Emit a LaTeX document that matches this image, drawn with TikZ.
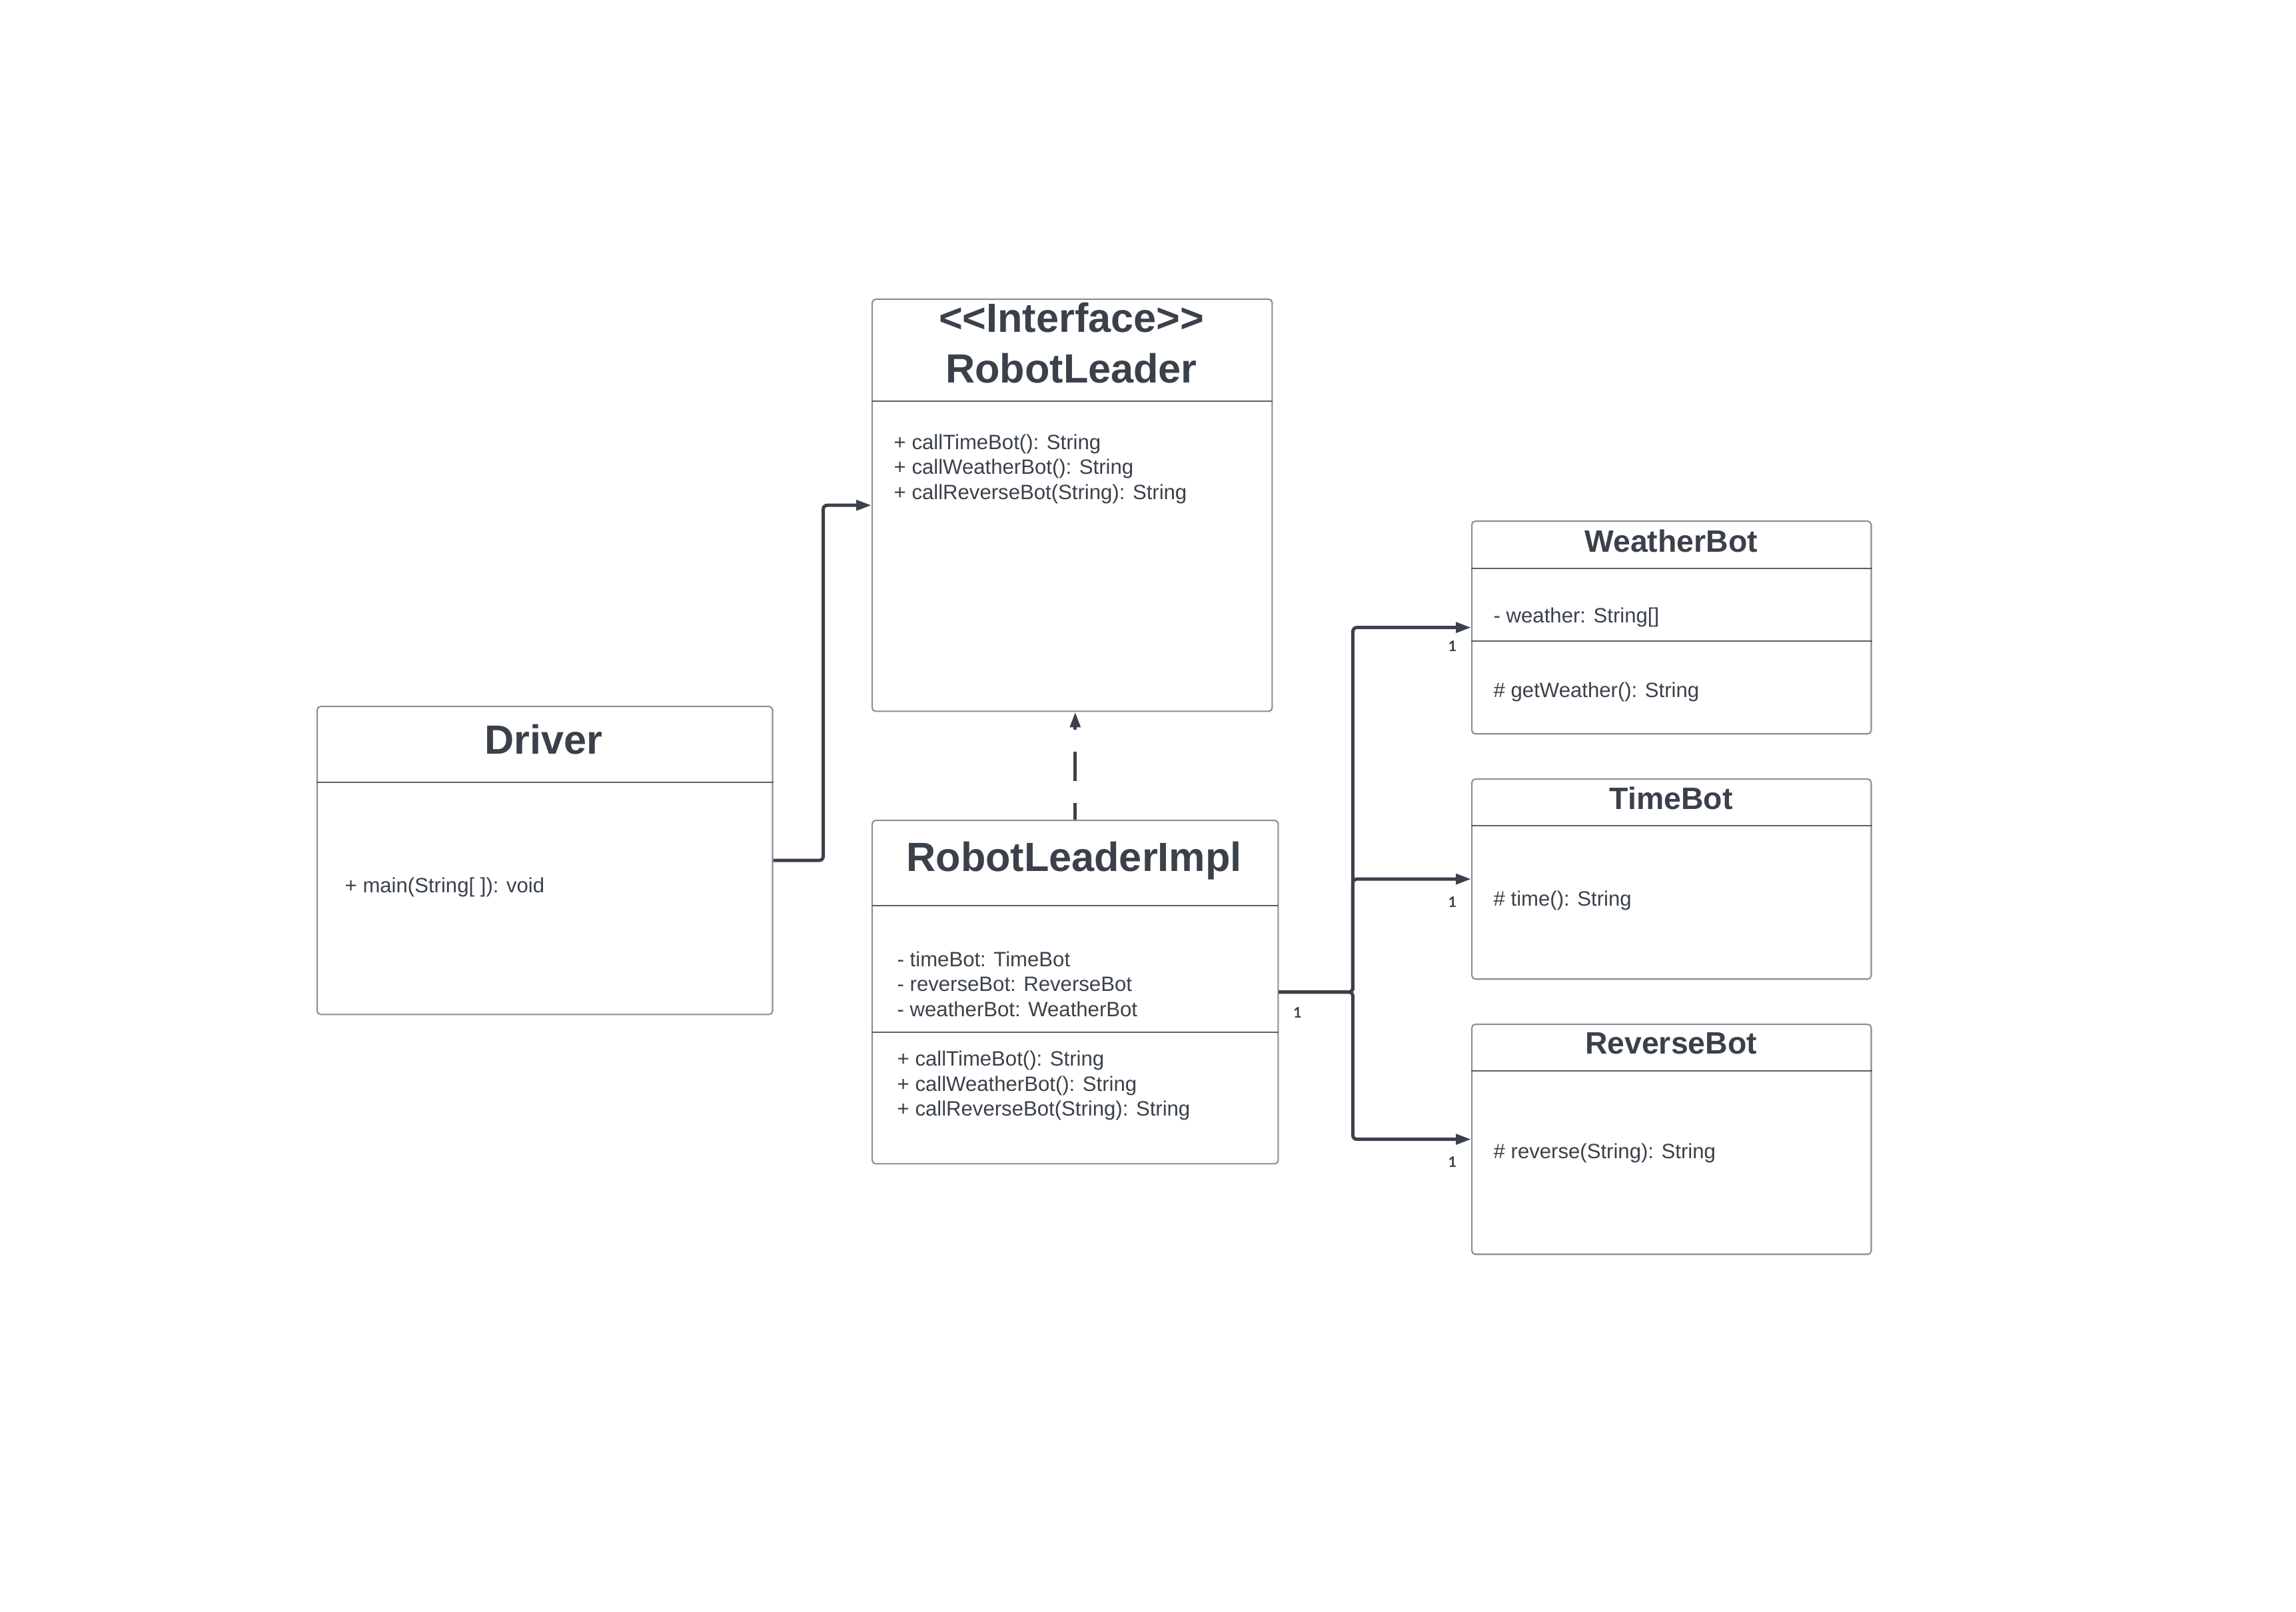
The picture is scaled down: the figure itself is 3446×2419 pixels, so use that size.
\documentclass[tikz,border=0pt]{standalone}
\usepackage{fontspec}
\setmainfont{Liberation Sans}[Ligatures=TeXOff]
\newfontfamily\multfont{Lato}
\usetikzlibrary{arrows.meta,calc}
\definecolor{ink}{HTML}{3A414A}
\definecolor{boxgray}{HTML}{8A8E94}
\definecolor{divgray}{HTML}{5A5E66}
\tikzset{
  umlbox/.style={draw=boxgray, line width=0.6pt, rounded corners=1.5pt, anchor=north west, inner sep=0pt, fill=white},
  divline/.style={draw=divgray, line width=0.55pt},
  bigtitle/.style={font=\fontsize{17.4}{20.9}\selectfont\bfseries, text=ink, anchor=base, inner sep=0pt},
  smalltitle/.style={font=\fontsize{13.2}{15.8}\selectfont\bfseries, text=ink, anchor=base, inner sep=0pt},
  member/.style={font=\fontsize{8.85}{10.6}\selectfont, text=ink, anchor=base west, inner sep=0pt},
  mult/.style={font=\multfont\fontsize{6.2}{7}\selectfont\bfseries, text=ink, inner sep=0pt},
  conn/.style={draw=ink, line width=1.42pt, rounded corners=1.7pt, -{Triangle[length=6.5pt,width=4.3pt]}},
  realize/.style={draw=ink, line width=1.42pt, dash pattern=on 12.5pt off 9.4pt, dash phase=5.4pt, -{Triangle[length=6.5pt,width=4.3pt]}},
}
\begin{document}
\begin{tikzpicture}[x=0.01cm, y=-0.01cm]
\useasboundingbox[fill=white] (0,0) rectangle (3446,2419);

% ---- RobotLeader interface
\node[umlbox, minimum width=6.00cm, minimum height=6.18cm] (rl) at (1308,448) {};
\draw[divline] ($(rl.north west)+(0,154)$) -- ($(rl.north east)+(0,154)$);
\node[bigtitle] (rlst) at (1608,499) {<<Interface>>};
\node[bigtitle] (rlt) at (1608,575) {RobotLeader};
\node[member] (rlm1) at (1341,675) {+ callTimeBot(): String};
\node[member] (rlm2) at (1341,712) {+ callWeatherBot(): String};
\node[member] (rlm3) at (1341,750) {+ callReverseBot(String): String};

% ---- Driver
\node[umlbox, minimum width=6.83cm, minimum height=4.62cm] (drv) at (475,1059) {};
\draw[divline] ($(drv.north west)+(0,115)$) -- ($(drv.north east)+(0,115)$);
\node[bigtitle] (drvt) at (816,1131) {Driver};
\node[member] (drvm1) at (517,1339) {+ main(String[ ]): void};

% ---- RobotLeaderImpl
\node[umlbox, minimum width=6.09cm, minimum height=5.15cm] (rli) at (1308,1230) {};
\draw[divline] ($(rli.north west)+(0,129)$) -- ($(rli.north east)+(0,129)$);
\draw[divline] ($(rli.north west)+(0,319)$) -- ($(rli.north east)+(0,319)$);
\node[bigtitle] (rlit) at (1612,1307) {RobotLeaderImpl};
\node[member] (rlia1) at (1346,1450) {- timeBot: TimeBot};
\node[member] (rlia2) at (1346,1487) {- reverseBot: ReverseBot};
\node[member] (rlia3) at (1346,1525) {- weatherBot: WeatherBot};
\node[member] (rlim1) at (1346,1599) {+ callTimeBot(): String};
\node[member] (rlim2) at (1346,1637) {+ callWeatherBot(): String};
\node[member] (rlim3) at (1346,1674) {+ callReverseBot(String): String};

% ---- WeatherBot
\node[umlbox, minimum width=5.99cm, minimum height=3.19cm] (wb) at (2208,781) {};
\draw[divline] ($(wb.north west)+(0,72)$) -- ($(wb.north east)+(0,72)$);
\draw[divline] ($(wb.north west)+(0,181)$) -- ($(wb.north east)+(0,181)$);
\node[smalltitle] (wbt) at (2508,828) {WeatherBot};
\node[member] (wba1) at (2241,934) {- weather: String[]};
\node[member] (wbm1) at (2241,1046) {\# getWeather(): String};

% ---- TimeBot
\node[umlbox, minimum width=5.99cm, minimum height=3.00cm] (tb) at (2208,1168) {};
\draw[divline] ($(tb.north west)+(0,71)$) -- ($(tb.north east)+(0,71)$);
\node[smalltitle] (tbt) at (2508,1214) {TimeBot};
\node[member] (tbm1) at (2241,1359) {\# time(): String};

% ---- ReverseBot
\node[umlbox, minimum width=5.99cm, minimum height=3.45cm] (rb) at (2208,1536) {};
\draw[divline] ($(rb.north west)+(0,71)$) -- ($(rb.north east)+(0,71)$);
\node[smalltitle] (rbt) at (2508,1581) {ReverseBot};
\node[member] (rbm1) at (2241,1738) {\# reverse(String): String};

% ---- connectors
\draw[conn] (drv.east) -- ++(75,0) |- (rl.west);
\draw[realize] (rli.north) -- (rli.north |- rl.south);
\draw[conn] (rli.east) -- ++(111,0) |- (wb.west);
\draw[conn] (rli.east) -- ++(111,0) |- (tb.west);
\draw[conn] (rli.east) -- ++(111,0) |- (rb.west);

% ---- multiplicities
\node[mult] (m0) at ($(rli.east)+(28,31)$) {1};
\node[mult] (m1) at ($(wb.west)+(-28,28)$) {1};
\node[mult] (m2) at ($(tb.west)+(-28,34)$) {1};
\node[mult] (m3) at ($(rb.west)+(-28,34)$) {1};
\end{tikzpicture}
\end{document}
